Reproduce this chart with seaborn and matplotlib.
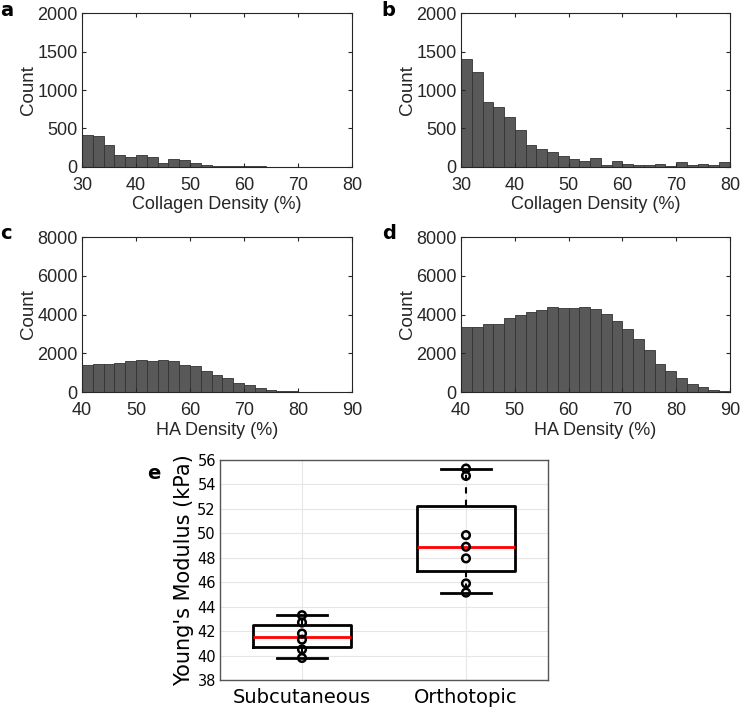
import numpy as np
import pandas as pd
import seaborn as sns
import matplotlib.pyplot as plt

# histogram counts (bin width 2 %)
collagen_edges = np.arange(30, 82, 2)
collagen_a = [420, 400, 290, 150, 130, 160, 130, 50, 100, 90, 50, 30, 15, 12, 8,
              10, 10, 3, 2, 1, 0, 0, 0, 0, 0]
collagen_b = [1400, 1230, 850, 780, 650, 480, 280, 240, 190, 140, 105, 75, 115, 30, 75,
              45, 20, 30, 35, 15, 65, 30, 35, 30, 60]

ha_edges = np.arange(40, 92, 2)
ha_c = [1400, 1450, 1450, 1500, 1600, 1650, 1580, 1650, 1600, 1400, 1320, 1100, 860, 720, 480,
        340, 200, 120, 70, 35, 15, 5, 2, 0, 0]
ha_d = [3350, 3350, 3500, 3500, 3800, 3960, 4150, 4220, 4380, 4320, 4350, 4390, 4280, 4030, 3680,
        3230, 2740, 2170, 1460, 1070, 705, 395, 275, 86, 35]

# Young's modulus measurements (kPa)
subcutaneous = [43.3, 42.7, 41.8, 41.3, 40.5, 39.8]
orthotopic = [55.3, 54.7, 49.85, 48.9, 47.95, 45.9, 45.15]
groups = ["Subcutaneous", "Orthotopic"]

plt.rcParams['font.family'] = ['Liberation Sans', 'DejaVu Sans']

fig = plt.figure(figsize=(7.4, 7.07), dpi=100)

def hist_panel(rect, edges, counts, xlabel, ymax, yticks, letter, letter_xy):
    ax = fig.add_axes(rect)
    centers = (edges[:-1] + edges[1:]) / 2
    df = pd.DataFrame({"x": centers, "w": counts})
    sns.histplot(data=df, x="x", weights="w", bins=len(counts),
                 binrange=(float(edges[0]), float(edges[-1])), ax=ax,
                 color="#595959", edgecolor="#333333", linewidth=0.6, alpha=1)
    ax.set_xlim(edges[0], edges[-1])
    ax.set_ylim(0, ymax)
    ax.set_xticks(np.arange(edges[0], edges[-1] + 1, 10))
    ax.set_yticks(yticks)
    ax.set_xlabel(xlabel, fontsize=13, color="#262626", labelpad=2)
    ax.set_ylabel("Count", fontsize=13.5, color="#262626", labelpad=0)
    ax.tick_params(direction="in", top=True, right=True, labelsize=13,
                   colors="#262626", length=3)
    ax.tick_params(axis="x", pad=7)
    ax.tick_params(axis="y", pad=3)
    for s in ax.spines.values():
        s.set_color("#262626")
        s.set_linewidth(0.8)
    fig.text(letter_xy[0], letter_xy[1], letter, fontsize=14, fontweight="bold",
             family="DejaVu Sans", ha="left", va="top")
    return ax

hist_panel([0.1108, 0.7638, 0.3649, 0.2178], collagen_edges, collagen_a,
           "Collagen Density (%)", 2000, [0, 500, 1000, 1500, 2000], "a", (0.0, 0.998))
hist_panel([0.623, 0.7638, 0.3635, 0.2178], collagen_edges, collagen_b,
           "Collagen Density (%)", 2000, [0, 500, 1000, 1500, 2000], "b", (0.516, 0.998))
hist_panel([0.1108, 0.4455, 0.3649, 0.2192], ha_edges, ha_c,
           "HA Density (%)", 8000, [0, 2000, 4000, 6000, 8000], "c", (0.0, 0.683))
hist_panel([0.623, 0.4455, 0.3635, 0.2192], ha_edges, ha_d,
           "HA Density (%)", 8000, [0, 2000, 4000, 6000, 8000], "d", (0.516, 0.683))

# panel e: box plot with points
mod = pd.DataFrame({
    "group": [groups[0]] * len(subcutaneous) + [groups[1]] * len(orthotopic),
    "E": subcutaneous + orthotopic,
})
ax = fig.add_axes([0.2973, 0.0382, 0.4432, 0.3112])
sns.boxplot(data=mod, x="group", y="E", order=groups, ax=ax, fill=False, width=0.6,
            color="black", linewidth=2, whis=10, showfliers=False,
            medianprops={"color": "red", "linewidth": 2},
            whiskerprops={"linestyle": (0, (3, 3)), "linewidth": 1.5},
            capprops={"linewidth": 2}, capwidths=0.31)
sns.stripplot(data=mod, x="group", y="E", order=groups, ax=ax, jitter=False,
              color="black", edgecolor="black", linewidth=1.8, size=5.5, zorder=5)
for c in ax.collections:
    c.set_facecolor("none")
    c.set_edgecolor("black")
ax.set_axisbelow(True)
ax.grid(True, color="#e6e6e6", linewidth=0.8)
ax.xaxis.grid(True, color="#e6e6e6", linewidth=0.8)
ax.set_xlim(-0.5, 1.5)
ax.set_ylim(38, 56)
ax.set_yticks(np.arange(38, 57, 2))
ax.set_xlabel("")
ax.set_ylabel("Young's Modulus (kPa)", fontsize=15, family="DejaVu Sans", labelpad=2)
ax.tick_params(axis="y", labelsize=10.5, length=0, pad=3)
ax.tick_params(axis="x", labelsize=14, length=0, pad=6)
for lab in ax.get_xticklabels() + ax.get_yticklabels():
    lab.set_family("DejaVu Sans")
for s in ax.spines.values():
    s.set_color("#555555")
    s.set_linewidth(1)
fig.text(0.199, 0.343, "e", fontsize=14, fontweight="bold", family="DejaVu Sans",
         ha="left", va="top")

fig.savefig("out.png", dpi=100)
